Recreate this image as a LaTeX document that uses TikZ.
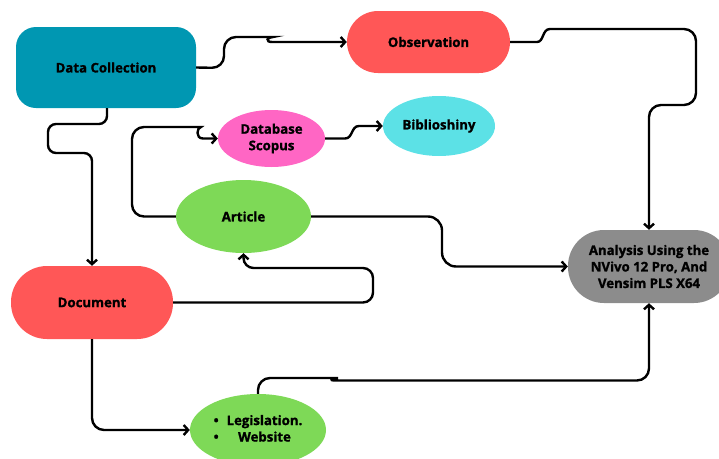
\documentclass[tikz,border=0pt]{standalone}
\usepackage{fontspec}
\setmainfont{Open Sans}[BoldFeatures={FakeBold=1.3}]
\usetikzlibrary{shapes.geometric,arrows.meta}
\definecolor{dcteal}{HTML}{0097B2}
\definecolor{obsred}{HTML}{FF5757}
\definecolor{scopink}{HTML}{FF66C4}
\definecolor{bibcyan}{HTML}{5CE1E6}
\definecolor{artgreen}{HTML}{7ED957}
\definecolor{anagrey}{HTML}{8C8C8C}
\begin{document}
\begin{tikzpicture}[x=1pt, y=-1pt,
  lbl/.style={font=\fontsize{13.2}{16.5}\selectfont\bfseries, align=center, inner sep=0pt},
  pill/.style={lbl, rectangle, fill=#1, minimum width=162pt, minimum height=73pt, rounded corners=36pt},
  oval/.style={lbl, ellipse, fill=#1},
  flow/.style={line width=2.4pt, rounded corners=12pt, -{Straight Barb[length=4.5pt,width=10pt]}}]
\clip (0,0) rectangle (719,458);
\node[lbl, rectangle, fill=dcteal, minimum width=180pt, minimum height=81pt, rounded corners=20pt] (dcol) at (106,67.5) {Data Collection};
\node[pill=obsred, minimum width=163pt, minimum height=62pt, rounded corners=31pt] (obs) at (428.5,42) {Observation};
\node[oval=scopink, minimum width=107pt, minimum height=57pt] (scop) at (271.5,138.5) {Database\\Scopus};
\node[oval=bibcyan, minimum width=112pt, minimum height=60pt] (bib) at (439,126) {Biblioshiny};
\node[oval=artgreen, minimum width=135pt, minimum height=73pt] (art) at (243.5,216.5) {Article};
\node[pill=obsred] (doc) at (92,302.5) {Document};
\node[oval=artgreen, minimum width=136pt, minimum height=72pt] (leg) at (258,430) {\begin{tabular}{@{}c@{\hspace{8pt}}c@{}}\textbullet & Legislation.\\ \textbullet & Website\end{tabular}};
\node[pill=anagrey] (ana) at (649,266.5) {Analysis Using the\\NVivo 12 Pro, And\\Vensim PLS X64};
\draw[flow] (dcol.east) -- (224,68) -- (224,37) -- (261,37) [sharp corners] .. controls (267,37) and (265,42) .. (272,42) -- (obs.west);
\draw[flow, sharp corners] (obs.east) -- (537,42) .. controls (544,42) and (542,29) .. (550,29) [rounded corners=12pt] -- (696,29) -- (696,105) -- (649,105) -- (ana.north);
\draw[flow, rounded corners=8pt] (107,108) -- (107,124) -- (48,124) -- (48,153) -- (92,153) -- (doc.north);
\draw[flow] (art.west) -- (132,216.5) -- (132,127) -- (189,127) [sharp corners] .. controls (197,127) and (195,138.5) .. (203,138.5) -- (scop.west);
\draw[flow, sharp corners] (scop.east) -- (345,138.5) .. controls (353,138.5) and (351,126) .. (359,126) -- (bib.west);
\draw[flow, rounded corners=14pt] (art.east) -- (442,216.5) -- (442,266.5) -- (ana.west);
\draw[flow, rounded corners=10pt] (doc.east) -- (373,302.5) -- (373,268) -- (243.5,268) -- (art.south);
\draw[flow] (doc.south) |- (leg.west);
\draw[flow] (leg.north) -- (258,378) -- (326,378) [sharp corners] .. controls (330,378) and (330,380.5) .. (334,380.5) [rounded corners=12pt] -- (649,380.5) -- (ana.south);
\end{tikzpicture}
\end{document}
